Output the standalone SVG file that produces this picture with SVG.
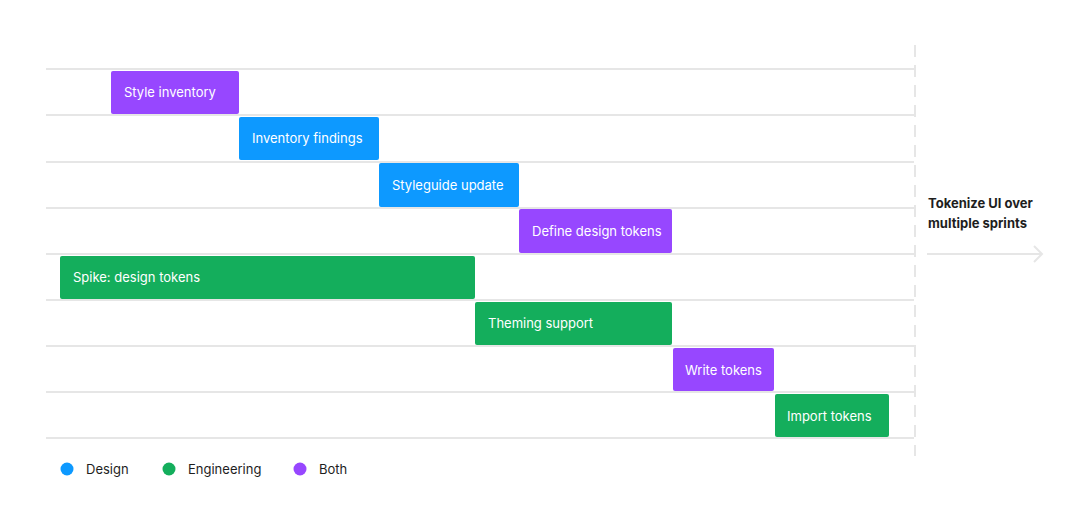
<svg xmlns="http://www.w3.org/2000/svg" width="1080" height="519" viewBox="0 0 1080 519">
<style>
.row{stroke:#e6e6e6;stroke-width:2}
.t{font-family:Inter,"Liberation Sans",sans-serif;font-size:13px;fill:#fff}
.lg{font-family:Inter,"Liberation Sans",sans-serif;font-size:13px;fill:#1e1e1e}
.p{fill:#9747FF}.b{fill:#0D99FF}.g{fill:#14AE5C}
</style>
<defs><marker id="ah" markerWidth="12" markerHeight="18" refX="10" refY="9" orient="auto" markerUnits="userSpaceOnUse"><path d="M2,1 L10,9 L2,17" fill="none" stroke="#e6e6e6" stroke-width="2"/></marker></defs>
<rect width="1080" height="519" fill="#fff"/>
<g id="connectors">
<line class="row" x1="46" y1="69" x2="914" y2="69"/>
<line class="row" x1="46" y1="115" x2="914" y2="115"/>
<line class="row" x1="46" y1="162" x2="914" y2="162"/>
<line class="row" x1="46" y1="208" x2="914" y2="208"/>
<line class="row" x1="46" y1="254" x2="914" y2="254"/>
<line class="row" x1="46" y1="300" x2="914" y2="300"/>
<line class="row" x1="46" y1="346" x2="914" y2="346"/>
<line class="row" x1="46" y1="392" x2="914" y2="392"/>
<line class="row" x1="46" y1="438" x2="914" y2="438"/>
<line x1="915" y1="45" x2="915" y2="456" stroke="#e6e6e6" stroke-width="2" stroke-dasharray="12,8"/>
<line x1="927" y1="254" x2="1042" y2="254" stroke="#e6e6e6" stroke-width="2" marker-end="url(#ah)"/>
</g>
<g id="n1"><rect class="p" x="111" y="71" width="128" height="43" rx="2"/><text class="t" x="124" y="97">Style inventory</text></g>
<g id="n2"><rect class="b" x="239" y="117" width="140" height="43" rx="2"/><text class="t" x="252" y="143">Inventory findings</text></g>
<g id="n3"><rect class="b" x="379" y="163" width="140" height="44" rx="2"/><text class="t" x="392" y="190">Styleguide update</text></g>
<g id="n4"><rect class="p" x="519" y="209" width="153" height="44" rx="2"/><text class="t" x="532" y="236">Define design tokens</text></g>
<g id="n5"><rect class="g" x="60" y="256" width="415" height="43" rx="2"/><text class="t" x="73" y="282">Spike: design tokens</text></g>
<g id="n6"><rect class="g" x="475" y="302" width="197" height="43" rx="2"/><text class="t" x="488" y="328">Theming support</text></g>
<g id="n7"><rect class="p" x="673" y="348" width="101" height="43" rx="2"/><text class="t" x="685" y="375">Write tokens</text></g>
<g id="n8"><rect class="g" x="775" y="394" width="114" height="43" rx="2"/><text class="t" x="787" y="421">Import tokens</text></g>
<g id="label"><text font-family="Inter,'Liberation Sans',sans-serif" font-size="13" font-weight="700" fill="#1e1e1e"><tspan x="928" y="208">Tokenize UI over</tspan><tspan x="928" y="228">multiple sprints</tspan></text></g>
<g id="legend">
<circle class="b" cx="67" cy="469" r="6.5"/><text class="lg" x="86" y="474">Design</text>
<circle class="g" cx="169" cy="469" r="6.5"/><text class="lg" x="188" y="474">Engineering</text>
<circle class="p" cx="300" cy="469" r="6.5"/><text class="lg" x="319" y="474">Both</text>
</g>
</svg>
